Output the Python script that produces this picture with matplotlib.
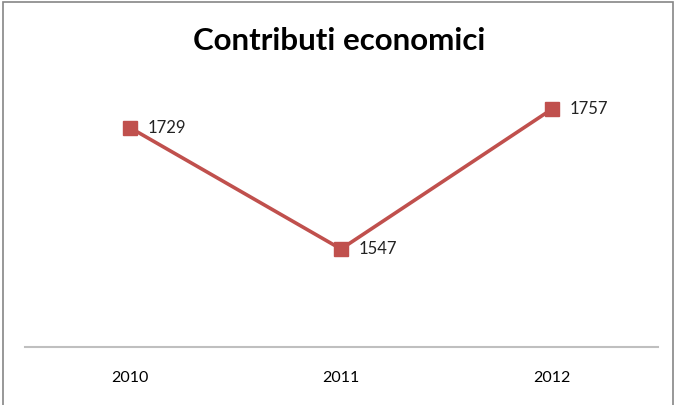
import matplotlib.pyplot as plt
from matplotlib.patches import Rectangle

years = ["2010", "2011", "2012"]
values = [1729, 1547, 1757]

fig = plt.figure(figsize=(6.75, 4.05), dpi=100)
ax = fig.add_axes([0.0363, 0.1432, 0.9378, 0.6583])

x = list(range(len(years)))
ax.plot(x, values, color="#C0504D", lw=2.6, marker="s", ms=10, zorder=3)
for xi, v in zip(x, values):
    ax.annotate(str(v), (xi, v), xytext=(13, 0), textcoords="offset points",
                va="center", ha="left", fontsize=12, family="Lato", color="#222222")

ax.set_xlim(-0.5, 2.5)
ax.set_ylim(1400, 1800)
ax.set_xticks(x)
ax.set_xticklabels(years, fontsize=11.5, family="Lato")
ax.tick_params(axis="x", length=0, pad=17)
ax.set_yticks([])
for side in ["top", "right", "left"]:
    ax.spines[side].set_visible(False)
ax.spines["bottom"].set_color("#BFBFBF")
ax.spines["bottom"].set_linewidth(1.5)

fig.text(0.503, 0.898, "Contributi economici", ha="center", va="center",
         fontsize=22.5, fontweight="bold", family="Lato")

# chart frame
fig.patches.append(Rectangle((3 / 675, -0.05), 670 / 675, 1 - 2 / 405 + 0.05,
                             transform=fig.transFigure, fill=False,
                             edgecolor="#868686", lw=1.2))

fig.savefig("out.png", dpi=100)
